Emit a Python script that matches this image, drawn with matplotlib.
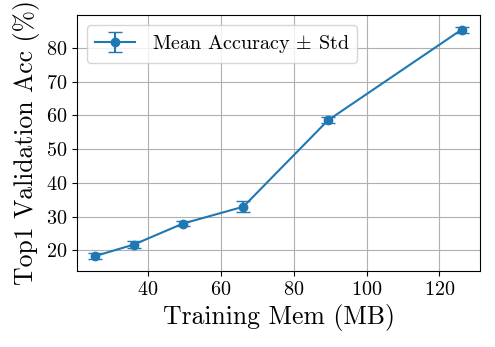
import matplotlib
matplotlib.use("Agg")
import matplotlib.pyplot as plt
from matplotlib.ticker import MultipleLocator

# Data
mem_mb = [25.6, 36.2, 49.6, 66.2, 89.4, 126.1]
acc_mean = [18.3, 21.7, 27.9, 32.9, 58.5, 85.4]
acc_std = [1.0, 1.0, 0.8, 1.6, 0.9, 0.9]

plt.rcParams['font.family'] = 'serif'
plt.rcParams['font.serif'] = ['cmr10', 'DejaVu Serif']
plt.rcParams['mathtext.fontset'] = 'cm'
plt.rcParams['axes.formatter.use_mathtext'] = True
plt.rcParams['axes.unicode_minus'] = False

fig = plt.figure(figsize=(4.95, 3.47), dpi=100)
ax = fig.add_axes([0.1556, 0.219, 0.8141, 0.738])

ax.errorbar(mem_mb, acc_mean, yerr=acc_std, fmt='-o', capsize=5,
            color='#1f77b4', label=r'Mean Accuracy $\pm$ Std')

ax.yaxis.set_major_locator(MultipleLocator(10))
ax.set_xlabel('Training Mem (MB)', fontsize=18.5)
ax.set_ylabel('Top1 Validation Acc (%)', fontsize=18.5)
ax.tick_params(labelsize=14.5)
ax.grid(True)
ax.legend(loc='upper left', fontsize=14.5)

plt.savefig('out.png', dpi=100)
plt.close()
